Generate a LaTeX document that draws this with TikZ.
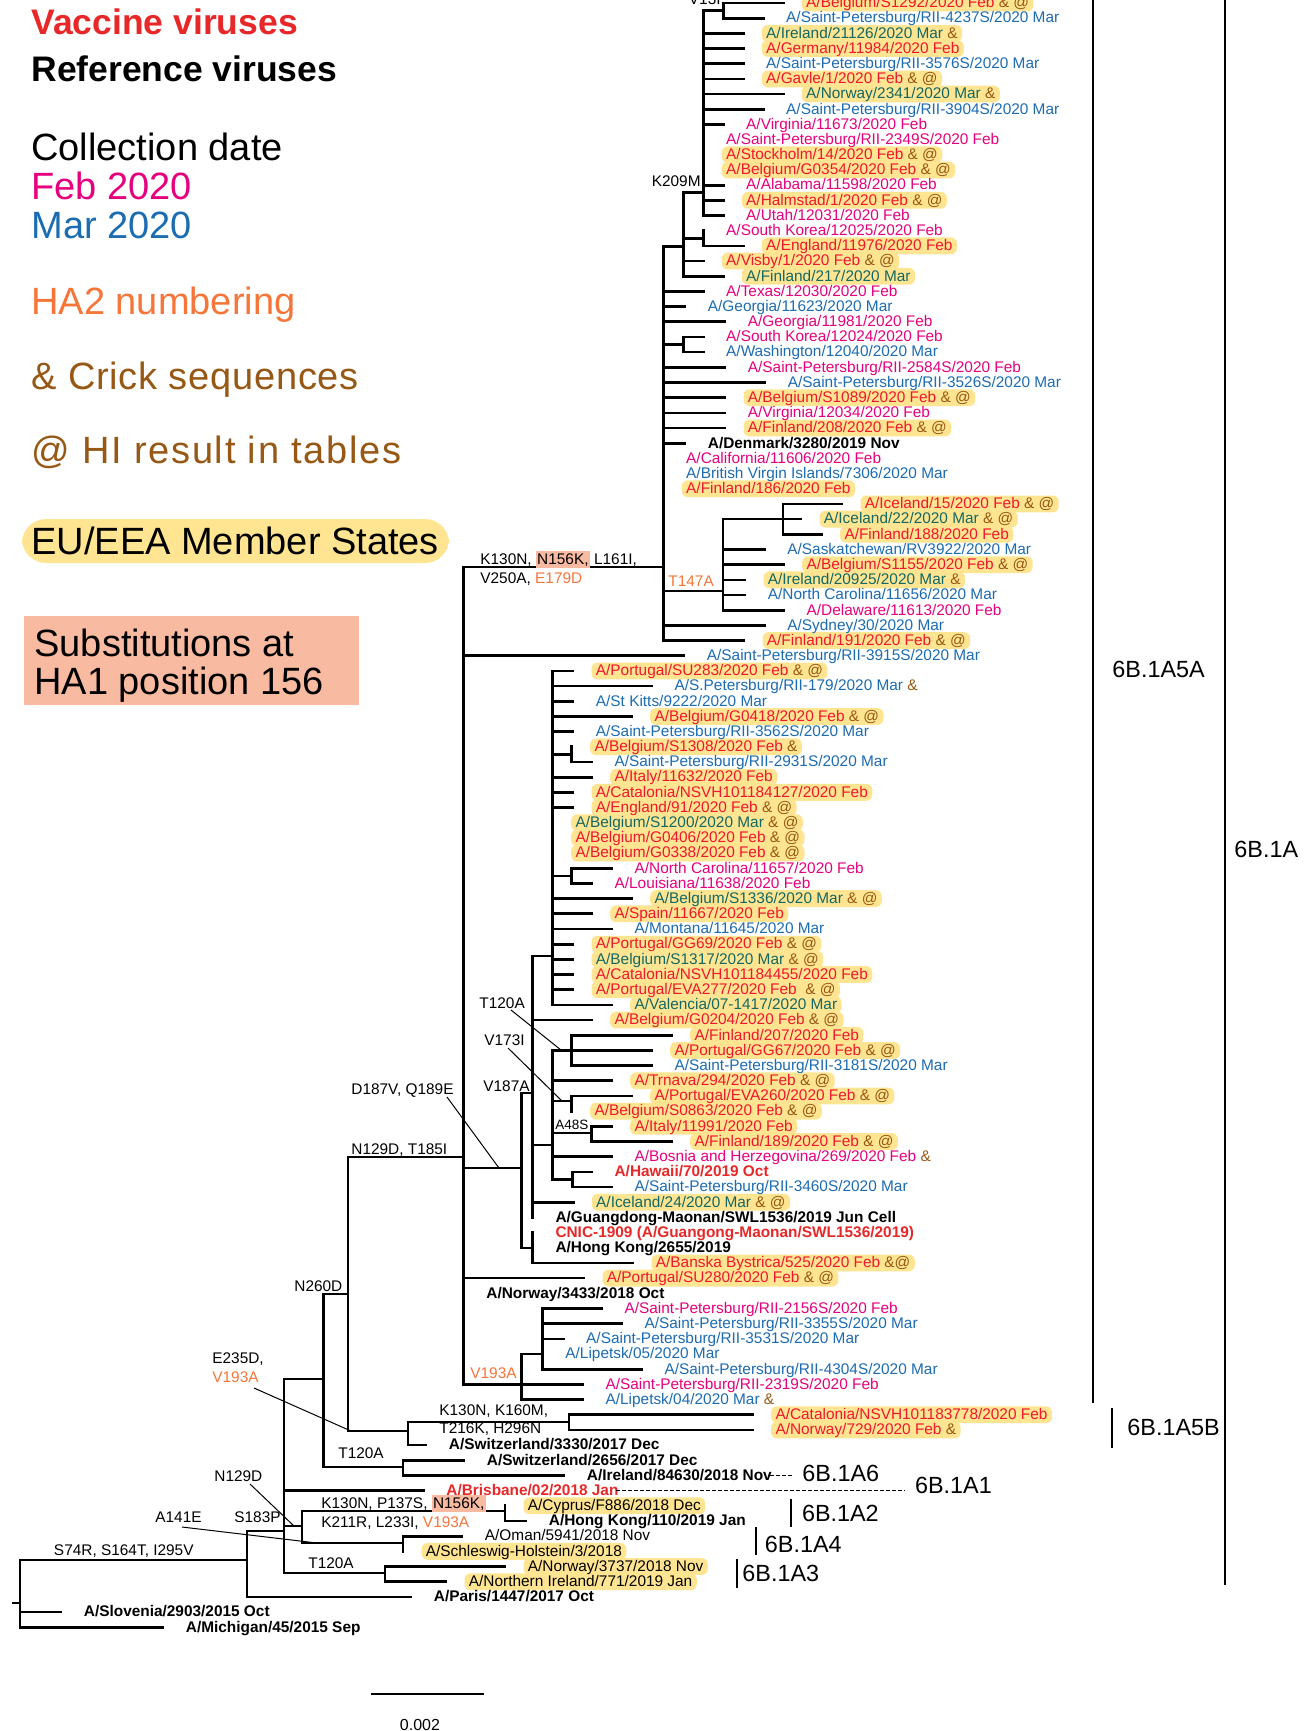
\documentclass[tikz,border=0pt]{standalone}
\usepackage{fontspec}
\setmainfont{Liberation Sans}
\pgfdeclarelayer{bg}
\pgfsetlayers{bg,main}
\definecolor{febN}{RGB}{230,0,126}
\definecolor{febH}{RGB}{240,22,45}
\definecolor{marN}{RGB}{28,108,178}
\definecolor{marH}{RGB}{18,104,100}
\definecolor{crick}{RGB}{150,88,20}
\definecolor{hatwo}{RGB}{246,118,58}
\definecolor{vacc}{RGB}{232,40,40}
\definecolor{hlc}{RGB}{255,229,145}
\definecolor{salm}{RGB}{248,186,160}
\setlength{\fboxsep}{0.6pt}
\newcommand\cA{{\color{crick}\&~@}}
\newcommand\cB{{\color{crick}\&}}
\newcommand\ryy[1]{{3+15.18*(#1)}}
\newcommand\tleaf[6]{%
  \draw[br] (#3,\ryy{#2}) -- (#4,\ryy{#2});
  \node[lbl,#5] (#1) at ({#4+18.5},\ryy{#2}) {#6};}
\newcommand\tleafh[6]{%
  \tleaf{#1}{#2}{#3}{#4}{#5}{#6}%
  \begin{pgfonlayer}{bg}\fill[hlc,rounded corners=3pt] (#1.south west) rectangle (#1.north east);\end{pgfonlayer}}
\newcommand\hbx[1]{\colorbox{salm}{\rule[-1.2pt]{0pt}{7.6pt}#1}}
\tikzset{
 br/.style={line width=1.35pt,line cap=rect},
 lbl/.style={anchor=west,inner xsep=2pt,inner ysep=0.2pt,text height=6.2pt,text depth=1.4pt,font=\fontsize{7.7pt}{8pt}\selectfont},
 fN/.style={text=febN}, fH/.style={text=febH}, mN/.style={text=marN}, mH/.style={text=marH},
 kN/.style={text=black},
 rb/.style={text=black,font=\fontsize{7.7pt}{8pt}\selectfont\bfseries},
 vb/.style={text=vacc,font=\fontsize{7.7pt}{8pt}\selectfont\bfseries},
 sub/.style={anchor=base west,inner sep=0pt,font=\fontsize{7.7pt}{9pt}\selectfont},
 lead/.style={line width=0.5pt},
 clab/.style={anchor=base west,inner sep=0pt,font=\fontsize{11.7pt}{13pt}\selectfont},
 brk/.style={line width=0.9pt},
 leg/.style={anchor=base west,inner sep=0pt,font=\fontsize{19pt}{22pt}\selectfont},
 legb/.style={anchor=base west,inner sep=0pt,font=\fontsize{17.75pt}{20pt}\selectfont\bfseries},
}
\begin{document}
\begin{tikzpicture}[x=0.5pt,y=-0.5pt]
\useasboundingbox (0,0) rectangle (1312,1731);
\begin{pgfonlayer}{bg}\fill[white] (0,0) rectangle (1312,1731);\end{pgfonlayer}

% ---------- legend ----------
\node[legb,text=vacc] (lvac) at (31,34.7) {Vaccine viruses};
\node[legb] (lref) at (31,81.2) {Reference viruses};
\node[leg] (lcol) at (31,160.6) {Collection date};
\node[leg,text=febN] (lfeb) at (31,199.1) {Feb 2020};
\node[leg,text=marN] (lmar) at (31,238.9) {Mar 2020};
\node[leg,text=hatwo] (lha2) at (31,314) {HA2 numbering};
\node[leg,text=crick] (lcrick) at (31,389.1) {\addfontfeatures{LetterSpace=2}\& Crick sequences};
\node[leg,text=crick] (lhi) at (31,463.1) {\addfontfeatures{LetterSpace=4.5}@ HI result in tables};
\fill[hlc,rounded corners=12pt] (22,519) rectangle (449,563);
\node[leg] (leu) at (31,554.6) {EU/EEA Member States};
\fill[salm] (24,616) rectangle (359,705);
\node[leg] (lsub1) at (34,656.6) {Substitutions at};
\node[leg] (lsub2) at (34,694.6) {HA1 position 156};

% ---------- top clade (K209M) ----------
\draw[br] (703.3,10.6) -- (723.3,10.6);
\draw[br] (723.3,\ryy{0}) -- (723.3,\ryy{1});
\tleafh{b1292}{0}{723.3}{783.3}{fH}{A/Belgium/S1292/2020 Feb \cA}
\tleaf{sp4237}{1}{723.3}{763.3}{mN}{A/Saint-Petersburg/RII-4237S/2020 Mar}
\draw[br] (683.3,192.7) -- (703.3,192.7);
\draw[br] (703.3,10.6) -- (703.3,\ryy{14});
\tleafh{ire21126}{2}{703.3}{743.3}{mH}{A/Ireland/21126/2020 Mar \cB}
\tleafh{ger}{3}{703.3}{743.3}{fH}{A/Germany/11984/2020 Feb}
\tleaf{sp3576}{4}{703.3}{743.3}{mN}{A/Saint-Petersburg/RII-3576S/2020 Mar}
\tleafh{gavle}{5}{703.3}{743.3}{fH}{A/Gavle/1/2020 Feb \cA}
\tleafh{nor2341}{6}{703.3}{783.3}{mH}{A/Norway/2341/2020 Mar \cB}
\tleaf{sp3904}{7}{703.3}{763.3}{mN}{A/Saint-Petersburg/RII-3904S/2020 Mar}
\tleaf{vir11673}{8}{703.3}{723.3}{fN}{A/Virginia/11673/2020 Feb}
\tleaf{sp2349}{9}{703.3}{703.3}{fN}{A/Saint-Petersburg/RII-2349S/2020 Feb}
\tleafh{stock}{10}{703.3}{703.3}{fH}{A/Stockholm/14/2020 Feb \cA}
\tleafh{g0354}{11}{703.3}{703.3}{fH}{A/Belgium/G0354/2020 Feb \cA}
\tleaf{alab}{12}{703.3}{723.3}{fN}{A/Alabama/11598/2020 Feb}
\tleafh{halm}{13}{703.3}{723.3}{fH}{A/Halmstad/1/2020 Feb \cA}
\tleaf{utah}{14}{703.3}{723.3}{fN}{A/Utah/12031/2020 Feb}
\draw[br] (683.3,238.3) -- (703.3,238.3);
\draw[br] (703.3,\ryy{15}) -- (703.3,\ryy{16});
\tleaf{sk12025}{15}{703.3}{703.3}{fN}{A/South Korea/12025/2020 Feb}
\tleafh{eng11976}{16}{703.3}{743.3}{fH}{A/England/11976/2020 Feb}
\draw[br] (663.3,246.7) -- (683.3,246.7);
\draw[br] (683.3,192.7) -- (683.3,\ryy{18});
\tleafh{visby}{17}{683.3}{703.3}{fH}{A/Visby/1/2020 Feb \cA}
\tleafh{fin217}{18}{683.3}{723.3}{mH}{A/Finland/217/2020 Mar}

% ---------- K130N node ----------
\draw[br] (663.3,246.7) -- (663.3,\ryy{42});
\tleaf{texas}{19}{663.3}{703.3}{fN}{A/Texas/12030/2020 Feb}
\tleaf{geo11623}{20}{663.3}{685}{mN}{A/Georgia/11623/2020 Mar}
\tleaf{geo11981}{21}{663.3}{725}{fN}{A/Georgia/11981/2020 Feb}
\draw[br] (663.3,{3+15.18*22.5}) -- (683.3,{3+15.18*22.5});
\draw[br] (683.3,\ryy{22}) -- (683.3,\ryy{23});
\tleaf{sk12024}{22}{683.3}{703.3}{fN}{A/South Korea/12024/2020 Feb}
\tleaf{wash}{23}{683.3}{703.3}{mN}{A/Washington/12040/2020 Mar}
\tleaf{sp2584}{24}{663.3}{725}{fN}{A/Saint-Petersburg/RII-2584S/2020 Feb}
\tleaf{sp3526}{25}{663.3}{765}{mN}{A/Saint-Petersburg/RII-3526S/2020 Mar}
\tleafh{s1089}{26}{663.3}{725}{fH}{A/Belgium/S1089/2020 Feb \cA}
\tleaf{vir12034}{27}{663.3}{725}{fN}{A/Virginia/12034/2020 Feb}
\tleafh{fin208}{28}{663.3}{725}{fH}{A/Finland/208/2020 Feb \cA}
\tleaf{den}{29}{663.3}{685}{rb}{A/Denmark/3280/2019 Nov}
\tleaf{calif}{30}{663.3}{663.3}{fN}{A/California/11606/2020 Feb}
\tleaf{bvi}{31}{663.3}{663.3}{mN}{A/British Virgin Islands/7306/2020 Mar}
\tleafh{fin186}{32}{663.3}{663.3}{fH}{A/Finland/186/2020 Feb}
\draw[br] (663.3,591) -- (722.9,591);
\draw[br] (722.9,\ryy{34}) -- (722.9,\ryy{40});
\draw[br] (722.9,\ryy{34}) -- (782.9,\ryy{34});
\draw[br] (782.9,\ryy{33}) -- (782.9,\ryy{35});
\tleafh{ice15}{33}{782.9}{842}{fH}{A/Iceland/15/2020 Feb \cA}
\tleafh{ice22}{34}{782.9}{801}{mH}{A/Iceland/22/2020 Mar \cA}
\tleafh{fin188}{35}{782.9}{821.6}{fH}{A/Finland/188/2020 Feb}
\tleaf{sask}{36}{722.9}{764.5}{mN}{A/Saskatchewan/RV3922/2020 Mar}
\tleafh{s1155}{37}{722.9}{783.7}{fH}{A/Belgium/S1155/2020 Feb \cA}
\tleafh{ire20925}{38}{722.9}{745}{mH}{A/Ireland/20925/2020 Mar \cB}
\tleaf{nc11656}{39}{722.9}{745}{mN}{A/North Carolina/11656/2020 Mar}
\tleaf{dela}{40}{722.9}{783.7}{fN}{A/Delaware/11613/2020 Feb}
\tleaf{sydney}{41}{663.3}{764.5}{mN}{A/Sydney/30/2020 Mar}
\tleafh{fin191}{42}{663.3}{744}{fH}{A/Finland/191/2020 Feb \cA}

% ---------- 6B.1A5A node ----------
\draw[br] (348,1157) -- (463.5,1157);
\draw[br] (463.5,567) -- (463.5,\ryy{91});
\draw[br] (463.5,567) -- (663.3,567);
\tleaf{sp3915}{43}{463.5}{684}{mN}{A/Saint-Petersburg/RII-3915S/2020 Mar}
\draw[br] (463.5,1168) -- (521.5,1168);
\draw[br] (521.5,1093) -- (521.5,1248);
\draw[br] (521.5,1093) -- (532.6,1093);
\draw[br] (532.6,956) -- (532.6,\ryy{80});
\draw[br] (532.6,956) -- (552.7,956);
\draw[br] (552.7,\ryy{44}) -- (552.7,\ryy{66});
\tleafh{su283}{44}{552.7}{573}{fH}{A/Portugal/SU283/2020 Feb \cA}
\tleaf{sp179}{45}{552.7}{651.7}{mN}{A/S.Petersburg/RII-179/2020 Mar \cB}
\tleaf{kitts}{46}{552.7}{573}{mN}{A/St Kitts/9222/2020 Mar}
\tleafh{g0418}{47}{552.7}{631.7}{fH}{A/Belgium/G0418/2020 Feb \cA}
\tleaf{sp3562}{48}{552.7}{573}{mN}{A/Saint-Petersburg/RII-3562S/2020 Mar}
\draw[br] (552.7,{3+15.18*49.5}) -- (571.7,{3+15.18*49.5});
\draw[br] (571.7,\ryy{49}) -- (571.7,\ryy{50});
\tleafh{s1308}{49}{571.7}{571.7}{fH}{A/Belgium/S1308/2020 Feb \cB}
\tleaf{sp2931}{50}{571.7}{591.7}{mN}{A/Saint-Petersburg/RII-2931S/2020 Mar}
\tleafh{ita11632}{51}{552.7}{591.7}{fH}{A/Italy/11632/2020 Feb}
\tleafh{cat127}{52}{552.7}{573}{fH}{A/Catalonia/NSVH101184127/2020 Feb}
\tleafh{eng91}{53}{552.7}{573}{fH}{A/England/91/2020 Feb \cA}
\tleafh{s1200}{54}{552.7}{552.7}{mH}{A/Belgium/S1200/2020 Mar \cA}
\tleafh{g0406}{55}{552.7}{552.7}{fH}{A/Belgium/G0406/2020 Feb \cA}
\tleafh{g0338}{56}{552.7}{552.7}{fH}{A/Belgium/G0338/2020 Feb \cA}
\draw[br] (552.7,{3+15.18*57.5}) -- (571.7,{3+15.18*57.5});
\draw[br] (571.7,\ryy{57}) -- (571.7,\ryy{58});
\tleaf{nc11657}{57}{571.7}{611.7}{fN}{A/North Carolina/11657/2020 Feb}
\tleaf{louis}{58}{571.7}{591.7}{fN}{A/Louisiana/11638/2020 Feb}
\tleafh{s1336}{59}{552.7}{631.7}{mH}{A/Belgium/S1336/2020 Mar \cA}
\tleafh{spain}{60}{552.7}{591.7}{fH}{A/Spain/11667/2020 Feb}
\tleaf{montana}{61}{552.7}{611.7}{mN}{A/Montana/11645/2020 Mar}
\tleafh{gg69}{62}{552.7}{573}{fH}{A/Portugal/GG69/2020 Feb \cA}
\tleafh{s1317}{63}{552.7}{573}{mH}{A/Belgium/S1317/2020 Mar \cA}
\tleafh{cat455}{64}{552.7}{573}{fH}{A/Catalonia/NSVH101184455/2020 Feb}
\tleafh{eva277}{65}{552.7}{573}{fH}{A/Portugal/EVA277/2020 Feb~ \cA}
\tleafh{valencia}{66}{552.7}{611.7}{mH}{A/Valencia/07-1417/2020 Mar}
\tleafh{g0204}{67}{532.6}{591.7}{fH}{A/Belgium/G0204/2020 Feb \cA}
\draw[br] (532.6,1145) -- (552.7,1145);
\draw[br] (552.7,\ryy{69}) -- (552.7,{3+15.18*77.5});
\draw[br] (552.7,\ryy{69}) -- (571.7,\ryy{69});
\draw[br] (571.7,\ryy{68}) -- (571.7,\ryy{70});
\tleafh{fin207}{68}{571.7}{671.7}{fH}{A/Finland/207/2020 Feb}
\tleafh{gg67}{69}{571.7}{651.7}{fH}{A/Portugal/GG67/2020 Feb \cA}
\tleaf{sp3181}{70}{571.7}{651.7}{mN}{A/Saint-Petersburg/RII-3181S/2020 Mar}
\tleafh{trnava}{71}{552.7}{611.7}{fH}{A/Trnava/294/2020 Feb \cA}
\draw[br] (552.7,1101) -- (571.7,1101);
\draw[br] (571.7,\ryy{72}) -- (571.7,\ryy{73});
\tleafh{eva260}{72}{571.7}{631.7}{fH}{A/Portugal/EVA260/2020 Feb \cA}
\tleafh{s0863}{73}{571.7}{571.7}{fH}{A/Belgium/S0863/2020 Feb \cA}
\draw[br] (552.7,1133) -- (591.7,1133);
\draw[br] (591.7,\ryy{74}) -- (591.7,\ryy{75});
\tleafh{ita11991}{74}{591.7}{611.7}{fH}{A/Italy/11991/2020 Feb}
\tleafh{fin189}{75}{591.7}{671.7}{fH}{A/Finland/189/2020 Feb \cA}
\tleaf{bosnia}{76}{552.7}{611.7}{fN}{A/Bosnia and Herzegovina/269/2020 Feb \cB}
\draw[br] (552.7,{3+15.18*77.5}) -- (572.3,{3+15.18*77.5});
\draw[br] (572.3,\ryy{77}) -- (572.3,\ryy{78});
\tleaf{hawaii}{77}{572.3}{591.7}{vb}{A/Hawaii/70/2019 Oct}
\tleaf{sp3460}{78}{572.3}{611.7}{mN}{A/Saint-Petersburg/RII-3460S/2020 Mar}
\tleafh{ice24}{79}{532.6}{573.3}{mH}{A/Iceland/24/2020 Mar \cA}
\tleaf{guang}{80}{532.6}{532.6}{rb}{A/Guangdong-Maonan/SWL1536/2019 Jun Cell}
\draw[br] (521.5,1248) -- (532.6,1248);
\draw[br] (532.6,\ryy{81}) -- (532.6,\ryy{83});
\tleaf{cnic}{81}{532.6}{532.6}{vb}{CNIC-1909 (A/Guangong-Maonan/SWL1536/2019)}
\tleaf{hk2655}{82}{532.6}{532.6}{rb}{A/Hong Kong/2655/2019}
\tleafh{banska}{83}{532.6}{633}{fH}{A/Banska Bystrica/525/2020 Feb {\color{crick}\&@}}
\tleafh{su280}{84}{463.5}{584}{fH}{A/Portugal/SU280/2020 Feb \cA}
\tleaf{nor3433}{85}{463.5}{463.5}{rb}{A/Norway/3433/2018 Oct}
\draw[br] (463.5,\ryy{91}) -- (521.4,\ryy{91});
\draw[br] (521.4,\ryy{89}) -- (521.4,\ryy{92});
\draw[br] (521.4,\ryy{89}) -- (542.5,\ryy{89});
\draw[br] (542.5,\ryy{86}) -- (542.5,\ryy{90});
\tleaf{sp2156}{86}{542.5}{601.7}{fN}{A/Saint-Petersburg/RII-2156S/2020 Feb}
\tleaf{sp3355}{87}{542.5}{621.7}{mN}{A/Saint-Petersburg/RII-3355S/2020 Mar}
\tleaf{sp3531}{88}{542.5}{563.3}{mN}{A/Saint-Petersburg/RII-3531S/2020 Mar}
\tleaf{lip05}{89}{542.5}{542.5}{mN}{A/Lipetsk/05/2020 Mar}
\tleaf{sp4304}{90}{542.5}{641.7}{mN}{A/Saint-Petersburg/RII-4304S/2020 Mar}
\tleaf{sp2319}{91}{521.4}{582.7}{fN}{A/Saint-Petersburg/RII-2319S/2020 Feb}
\tleaf{lip04}{92}{521.4}{582.7}{mN}{A/Lipetsk/04/2020 Mar \cB}

% ---------- N260D node, 6B.1A5B ----------
\draw[br] (323.6,1294) -- (348,1294);
\draw[br] (348,1157) -- (348,1431);
\draw[br] (348,1431) -- (408,1431);
\draw[br] (408,1422) -- (408,\ryy{95});
\draw[br] (408,1422) -- (569,1422);
\draw[br] (569,\ryy{93}) -- (569,\ryy{94});
\tleafh{cat778}{93}{569}{752.6}{fH}{A/Catalonia/NSVH101183778/2020 Feb}
\tleafh{nor729}{94}{569}{752.6}{fH}{A/Norway/729/2020 Feb \cB}
\tleaf{swi3330}{95}{408}{426}{rb}{A/Switzerland/3330/2017 Dec}

% ---------- E235D node, 6B.1A6 ----------
\draw[br] (284,1379) -- (323.6,1379);
\draw[br] (323.6,1294) -- (323.6,1467);
\draw[br] (323.6,1467) -- (403,1467);
\draw[br] (403,\ryy{96}) -- (403,\ryy{97});
\tleaf{swi2656}{96}{403}{464}{rb}{A/Switzerland/2656/2017 Dec}
\tleaf{ire84630}{97}{403}{564}{rb}{A/Ireland/84630/2018 Nov}

% ---------- S183P node ----------
\draw[br] (247,1531) -- (284,1531);
\draw[br] (284,1379) -- (284,1573);
\tleaf{bris}{98}{284}{423.5}{vb}{A/Brisbane/02/2018 Jan}
\draw[br] (284,1526) -- (302,1526);
\draw[br] (302,1511) -- (302,1543);
\draw[br] (302,1511) -- (505,1511);
\draw[br] (505,\ryy{99}) -- (505,\ryy{100});
\tleafh{cyprus}{99}{505}{505}{kN}{A/Cyprus/F886/2018 Dec}
\tleaf{hk110}{100}{505}{526}{rb}{A/Hong Kong/110/2019 Jan}
\draw[br] (302,1543) -- (403,1543);
\draw[br] (403,\ryy{101}) -- (403,\ryy{102});
\tleaf{oman}{101}{403}{462}{kN}{A/Oman/5941/2018 Nov}
\tleafh{schles}{102}{403}{403}{kN}{A/Schleswig-Holstein/3/2018}
\draw[br] (284,1573) -- (385,1573);
\draw[br] (385,\ryy{103}) -- (385,\ryy{104});
\tleafh{nor3737}{103}{385}{505}{kN}{A/Norway/3737/2018 Nov}
\tleafh{nireland}{104}{385}{446}{kN}{A/Northern Ireland/771/2019 Jan}

% ---------- root ----------
\draw[br] (20,1560) -- (247,1560);
\draw[br] (247,1531) -- (247,\ryy{105});
\tleaf{paris}{105}{247}{411}{rb}{A/Paris/1447/2017 Oct}
\draw[br] (13,1603) -- (20,1603);
\draw[br] (20,1560) -- (20,\ryy{107});
\tleaf{slov}{106}{20}{61}{rb}{A/Slovenia/2903/2015 Oct}
\tleaf{mich}{107}{20}{163}{rb}{A/Michigan/45/2015 Sep}

% ---------- substitution labels ----------
\node[sub,anchor=base east] (v13i) at (721,4) {V13I};
\node[sub,anchor=base east] (k209m) at (701,186.5) {K209M};
\node[sub,text=hatwo] (t147a) at (668,586.5) {T147A};
\node[sub] (k130a) at (480,564.5) {K130N, \hbx{N156K,} L161I,};
\node[sub] (k130b) at (480,583.5) {V250A, {\color{hatwo}E179D}};
\node[sub] (n129t) at (351,1154.5) {N129D, T185I};
\node[sub] (d187) at (351,1094.5) {D187V, Q189E};
\draw[lead] (447,1097) -- (499,1168);
\node[sub] (t120a1) at (479,1008.5) {T120A};
\draw[lead] (511,1010) -- (561,1050);
\node[sub] (v173) at (484,1045.5) {V173I};
\draw[lead] (508,1048) -- (562,1101);
\node[sub] (v187) at (483,1091.5) {V187A};
\node[sub,font=\fontsize{6.75pt}{7pt}\selectfont] (a48s) at (555,1129) {A48S};
\node[sub,text=hatwo] (v193a1) at (470,1378.5) {V193A};
\node[sub] (n260) at (294,1291.5) {N260D};
\node[sub] (e235) at (212,1363.5) {E235D,};
\node[sub,text=hatwo] (v193a2) at (212,1382.5) {V193A};
\draw[lead] (254,1388) -- (351,1431);
\node[sub] (k130k) at (439,1415.5) {K130N, K160M,};
\node[sub] (t216) at (439,1433.5) {T216K, H296N};
\node[sub] (t120a2) at (338,1458.5) {T120A};
\node[sub] (n129d) at (214,1481) {N129D};
\draw[lead] (250,1484) -- (294,1526);
\node[sub] (a141) at (155,1522.5) {A141E};
\draw[lead] (182,1527) -- (317,1543);
\node[sub] (s183) at (234,1522.5) {S183P};
\node[sub] (k130p) at (321,1508.5) {K130N, P137S, \hbx{N156K,}};
\node[sub] (k211) at (321,1527.5) {K211R, L233I, {\color{hatwo}V193A}};
\node[sub] (t120a3) at (308,1568.5) {T120A};
\node[sub] (s74r) at (53.6,1555.5) {S74R, S164T, I295V};

% ---------- clade brackets and labels ----------
\draw[brk] (1093,-5) -- (1093,1403);
\draw[brk] (1225,-5) -- (1225,1585);
\draw[brk] (1112,1408) -- (1112,1448);
\draw[brk] (791,1499) -- (791,1527);
\draw[brk] (755.7,1527) -- (755.7,1555);
\draw[brk] (737,1559) -- (737,1588);
\draw[line width=0.5pt,dash pattern=on 2pt off 1pt] (770,\ryy{97}) -- (793,\ryy{97});
\draw[line width=0.5pt,dash pattern=on 2pt off 1pt] (616,1490) -- (905,1490);
\node[clab] (c5a) at (1112,677.4) {6B.1A5A};
\node[clab] (c1a) at (1234,857.4) {6B.1A};
\node[clab] (c5b) at (1127,1435.4) {6B.1A5B};
\node[clab] (c6) at (802,1481.4) {6B.1A6};
\node[clab] (c1) at (914.6,1493.4) {6B.1A1};
\node[clab] (c2) at (801.6,1521.4) {6B.1A2};
\node[clab] (c4) at (764.5,1552.4) {6B.1A4};
\node[clab] (c3) at (742,1581.4) {6B.1A3};

% ---------- scale bar ----------
\draw[line width=1pt] (371,1694) -- (484,1694);
\node[anchor=base,inner sep=0pt,font=\fontsize{8pt}{9pt}\selectfont] (sbar) at (420,1730) {0.002};
\end{tikzpicture}
\end{document}
